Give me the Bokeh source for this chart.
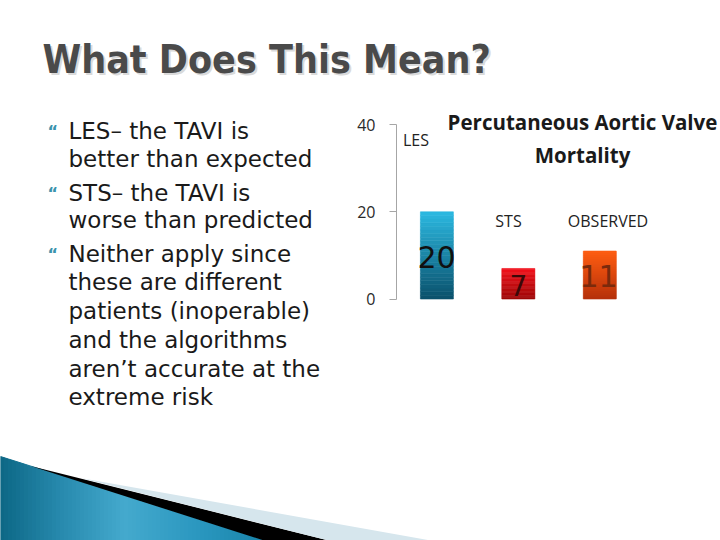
from bokeh.plotting import figure
from bokeh.models import Range1d, LinearAxis, FixedTicker
from bokeh.core.properties import value
from bokeh.embed import file_html
from bokeh.resources import INLINE

# ---------------- data ----------------
categories = ["LES", "STS", "OBSERVED"]
mortality = [20, 7, 11]
y_ticks = [0, 20, 40]
chart_title_lines = ["Percutaneous Aortic Valve", "Mortality"]
slide_title = "What Does This Mean?"
bullet_items = [
    ["LES– the TAVI is", "better than expected"],
    ["STS– the TAVI is", "worse than predicted"],
    ["Neither apply since", "these are different", "patients (inoperable)",
     "and the algorithms", "aren’t accurate at the", "extreme risk"],
]

# ---------------- layout (page pixels of the 720x540 window) ----------------
W, H, M = 720, 540, 0
ZERO_PY, PX_PER_UNIT = 298.5, 4.36
CAT0_PX, CAT_STEP_PX = 436.4, 81.45
BASE_SHIFT = 0.39   # empirical baseline correction (fraction of font size)


def dx(px):
    return (px - CAT0_PX) / CAT_STEP_PX


def dy(py):
    return (ZERO_PY - py) / PX_PER_UNIT


def by_(py, size):
    """data y for a text whose alphabetic baseline should sit at page pixel py"""
    return dy(py - BASE_SHIFT * size)


def mix(c1, c2, t):
    a = [int(c1[i:i + 2], 16) for i in (1, 3, 5)]
    b = [int(c2[i:i + 2], 16) for i in (1, 3, 5)]
    return "#%02x%02x%02x" % tuple(int(round(a[j] + (b[j] - a[j]) * t)) for j in range(3))


p = figure(width=W, height=H, output_backend="svg", toolbar_location=None,
           x_range=Range1d(dx(M), dx(M + W)), y_range=Range1d(dy(M + H), dy(M)),
           x_axis_location=None, y_axis_location=None, min_border=0,
           outline_line_color=None, background_fill_color="white",
           border_fill_color="white")
p.grid.visible = False

# ---------------- bottom-left decoration ----------------
def blue_top(px):
    return 456 + px * (540 - 456) / 265.0

stops = [(0, "#0c6785"), (60, "#2789ad"), (125, "#44a9cd"), (200, "#2a97bf"), (270, "#1782a8")]


def blue_col(px):
    for (x0, c0), (x1, c1) in zip(stops[:-1], stops[1:]):
        if x0 <= px <= x1:
            return mix(c0, c1, (px - x0) / (x1 - x0))
    return stops[-1][1]

seg_xs, seg_ys, seg_cols = [], [], []
step = 4
xa = 0
while xa < 265:
    xb = min(xa + step, 265)
    seg_xs.append([dx(xa), dx(xb), dx(xb), dx(xa)])
    seg_ys.append([dy(blue_top(xa)), dy(blue_top(xb)), dy(545), dy(545)])
    seg_cols.append(blue_col((xa + xb) / 2))
    xa = xb
p.patches(seg_xs, seg_ys, fill_color=seg_cols, line_color=seg_cols, line_width=1)

# black wedge
p.patch([dx(30), dx(330), dx(265)], [dy(blue_top(30)), dy(540.5), dy(540.5)],
        fill_color="#000000", line_color=None)
# light wedge
p.patch([dx(80), dx(433), dx(330)], [dy(477.6), dy(540.5), dy(540.5)],
        fill_color="#d6e6ed", line_color=None)

# ---------------- slide title ----------------
TS = 39
p.text(x=[dx(44)], y=[by_(76, TS)], text=[slide_title], text_font=value("DejaVu Sans Condensed"),
       text_font_style="bold", text_font_size=f"{TS}px", text_color="#dadada",
       text_baseline="alphabetic", text_align="left")
p.text(x=[dx(42)], y=[by_(74, TS)], text=[slide_title], text_font=value("DejaVu Sans Condensed"),
       text_font_style="bold", text_font_size=f"{TS}px", text_color="#4a4a4a",
       text_baseline="alphabetic", text_align="left")

# ---------------- bullets ----------------
BS, MS = 23, 16
line_baselines = [139, 167, 201, 228, 262, 290, 319, 348, 377, 405]
bx, byy, bt, mx, my = [], [], [], [], []
li = 0
for item in bullet_items:
    mx.append(dx(47))
    my.append(by_(line_baselines[li] - 2, MS))
    for line in item:
        bx.append(dx(68))
        byy.append(by_(line_baselines[li], BS))
        bt.append(line)
        li += 1
p.text(x=mx, y=my, text=["“"] * len(mx), text_font=value("DejaVu Sans"),
       text_font_style="bold", text_font_size=f"{MS}px", text_color="#3b93ad",
       text_baseline="alphabetic", text_align="left")
p.text(x=bx, y=byy, text=bt, text_font=value("DejaVu Sans"), text_font_size=f"{BS}px",
       text_color="#1a1a1a", text_baseline="alphabetic", text_align="left")

# ---------------- bars (vertical gradient slices) ----------------
bar_top_colors = ["#2cb9e1", "#f2121c", "#ff5e12"]
bar_bottom_colors = ["#0a506b", "#9c0808", "#b5300a"]
N = 24
xs, bots, tops, cols = [], [], [], []
for i, v in enumerate(mortality):
    for k in range(N):
        t = (k + 0.5) / N
        xs.append(i)
        bots.append(v * k / N)
        tops.append(v * (k + 1) / N)
        cols.append(mix(bar_bottom_colors[i], bar_top_colors[i], t))
p.vbar(x=xs, width=0.405, bottom=bots, top=tops, fill_color=cols, line_color=cols,
       line_width=0.6)

# value labels inside the bars
val_label_px = [(436, 268, 30), (518, 296, 28), (598, 287, 30)]
val_label_colors = ["#101010", "#3c0808", "#7a2a0c"]
p.text(x=[dx(a) for a, b, s in val_label_px], y=[by_(b, s) for a, b, s in val_label_px],
       text=[str(v) for v in mortality], text_font=value("DejaVu Sans"),
       text_font_size=[f"{s}px" for a, b, s in val_label_px], text_color=val_label_colors,
       text_baseline="alphabetic", text_align="center")

# category labels
CS = 16
cat_label_px = [(415.5, 146), (508, 227), (607.5, 227)]
p.text(x=[dx(a) for a, b in cat_label_px], y=[by_(b, CS) for a, b in cat_label_px],
       text=categories, text_font=value("Open Sans"), text_font_size=f"{CS}px",
       text_color="#222222", text_baseline="alphabetic", text_align="center")

# chart title
HS = 20.5
p.text(x=[dx(582), dx(582)], y=[by_(129, HS), by_(162, HS)], text=chart_title_lines,
       text_font=value("Open Sans"), text_font_style="bold", text_font_size=f"{HS}px",
       text_color="#1a1a1a", text_baseline="alphabetic", text_align="center")

# ---------------- value axis ----------------
yaxis = LinearAxis(fixed_location=dx(396), bounds=(0, 40),
                   ticker=FixedTicker(ticks=y_ticks),
                   major_tick_out=7, major_tick_in=0, minor_tick_out=0, minor_tick_in=0,
                   axis_line_color="#a6a6a6", major_tick_line_color="#a6a6a6",
                   major_label_text_font="Open Sans", major_label_text_font_size="16px",
                   major_label_text_color="#2a2a2a", major_label_standoff=14)
p.add_layout(yaxis, "left")

open("out.html", "w").write(file_html(p, INLINE))
